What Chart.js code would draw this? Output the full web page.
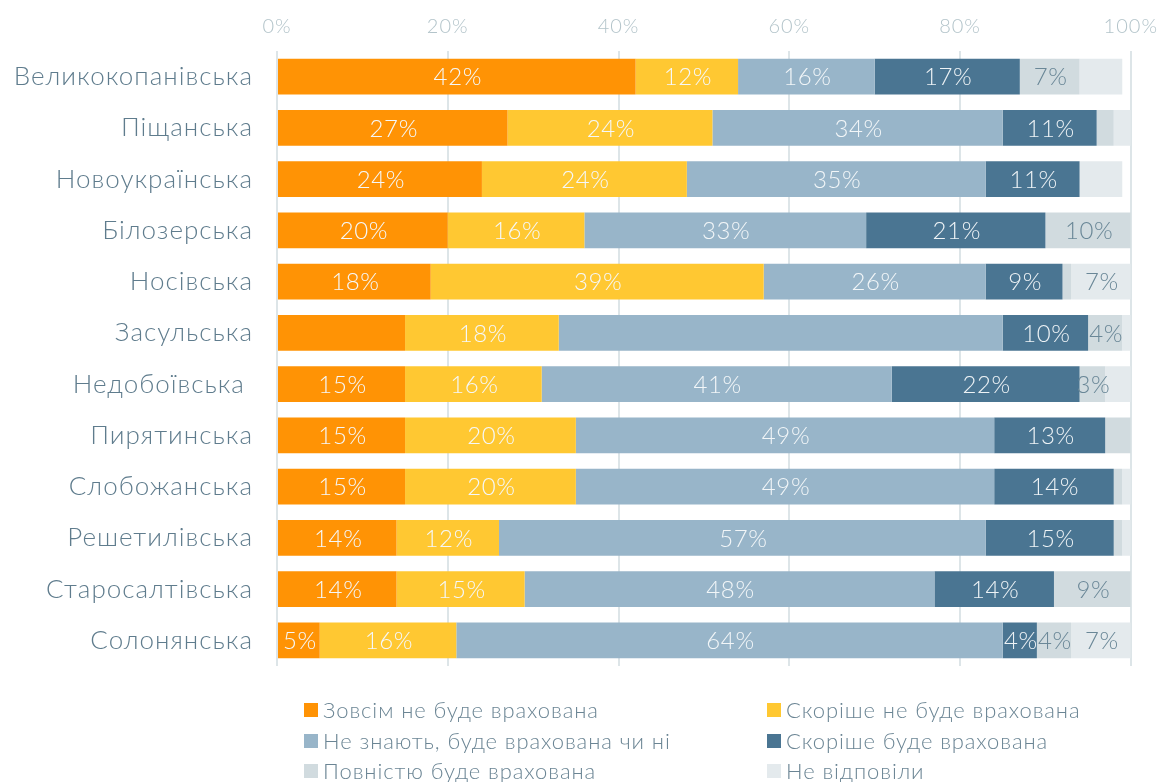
<!DOCTYPE html>
<html>
<head>
<meta charset="utf-8">
<title>Врахування думки громади</title>
<script src="https://cdn.jsdelivr.net/npm/chart.js@4/dist/chart.umd.min.js"></script>
<style>
  html, body { margin: 0; padding: 0; background: #fff; }
  #wrap { width: 1168px; height: 782px; }
</style>
</head>
<body>
<div id="wrap"><canvas id="surveyChart" width="1168" height="782"></canvas></div>
<script>
// громади (рядки діаграми)
const communities = [
  'Великокопанівська', 'Піщанська', 'Новоукраїнська', 'Білозерська', 'Носівська',
  'Засульська', 'Недобоївська ', 'Пирятинська', 'Слобожанська', 'Решетилівська',
  'Старосалтівська', 'Солонянська'
];

// частки відповідей, %
const notConsidered = [42, 27, 24, 20, 18, 15, 15, 15, 15, 14, 14, 5];
const ratherNot     = [12, 24, 24, 16, 39, 18, 16, 20, 20, 12, 15, 16];
const dontKnow      = [16, 34, 35, 33, 26, 52, 41, 49, 49, 57, 48, 64];
const ratherYes     = [17, 11, 11, 21, 9, 10, 22, 13, 14, 15, 14, 4];
const fully         = [7, 2, 0, 10, 1, 4, 3, 3, 1, 1, 9, 4];
const noAnswer      = [5, 2, 5, 0, 7, 1, 3, 0, 1, 1, 0, 7];

const seriesNames = [
  'Зовсім не буде врахована', 'Скоріше не буде врахована',
  'Не знають, буде врахована чи ні', 'Скоріше буде врахована',
  'Повністю буде врахована', 'Не відповіли'
];
const xTicks = [0, 20, 40, 60, 80, 100];

// segments left without a value label: [row, series]
const unlabeled = [[0, 5], [1, 4], [1, 5], [2, 5], [4, 4], [5, 0], [5, 2], [5, 5],
                   [6, 5], [7, 4], [8, 4], [8, 5], [9, 4], [9, 5]];

const colors = ['#ff9305', '#ffc832', '#98b5c9', '#4a7592', '#d1dbdf', '#e4eaed'];
const labelColors = ['#f5f8fa', '#f5f8fa', '#f2f6f8', '#eef3f6', '#6a8797', '#6a8797'];
const FONT = 'Lato, "Open Sans", sans-serif';

// slightly wider tracking for the axis labels
const tracking = {
  id: 'tracking',
  beforeDraw(chart) { chart.ctx.letterSpacing = '1px'; }
};

const valueLabels = {
  id: 'valueLabels',
  afterDatasetsDraw(chart) {
    const ctx = chart.ctx;
    ctx.save();
    ctx.font = '300 24px ' + FONT;
    ctx.letterSpacing = '0.6px';
    ctx.textAlign = 'center';
    ctx.textBaseline = 'middle';
    chart.data.datasets.forEach((ds, si) => {
      chart.getDatasetMeta(si).data.forEach((bar, ri) => {
        const v = ds.data[ri];
        if (!v) return;
        if (unlabeled.some(p => p[0] === ri && p[1] === si)) return;
        const c = bar.getCenterPoint();
        ctx.fillStyle = labelColors[si];
        ctx.fillText(v + '%', c.x + 1, c.y + 1);
      });
    });
    ctx.restore();
  }
};

// two-column legend under the plot
const columnLegend = {
  id: 'columnLegend',
  afterDraw(chart) {
    const ctx = chart.ctx;
    const cols = [304, 767];
    const rowY = [710, 741, 771];
    ctx.save();
    ctx.font = '300 22px ' + FONT;
    ctx.letterSpacing = '0.9px';
    ctx.textBaseline = 'middle';
    ctx.textAlign = 'left';
    chart.data.datasets.forEach((ds, i) => {
      const x = cols[i % 2];
      const y = rowY[Math.floor(i / 2)];
      ctx.fillStyle = ds.backgroundColor;
      ctx.fillRect(x, y - 7, 14, 14);
      ctx.fillStyle = '#6b8594';
      ctx.fillText(ds.label, x + 19, y + 1);
    });
    ctx.restore();
  }
};

function draw() {
  const seriesData = [notConsidered, ratherNot, dontKnow, ratherYes, fully, noAnswer];
  new Chart(document.getElementById('surveyChart'), {
    type: 'bar',
    data: {
      labels: communities,
      datasets: seriesData.map((d, i) => ({
        label: seriesNames[i],
        data: d,
        backgroundColor: colors[i],
        borderWidth: 0,
        barPercentage: 0.7,
        categoryPercentage: 1
      }))
    },
    options: {
      indexAxis: 'y',
      responsive: false,
      animation: false,
      layout: { padding: { left: 0, right: 35, top: 0, bottom: 116 } },
      plugins: {
        legend: { display: false },
        tooltip: { enabled: false }
      },
      scales: {
        x: {
          position: 'top',
          stacked: true,
          min: 0,
          max: 100,
          afterBuildTicks: s => { s.ticks = xTicks.map(v => ({ value: v })); },
          afterFit: s => { s.height = 51; },
          border: { display: false },
          grid: { color: '#dde5e8', lineWidth: 2, drawTicks: false },
          ticks: {
            padding: 12,
            color: '#b3c4ca',
            font: { family: FONT, size: 20, weight: '300' },
            callback: v => v + '%'
          }
        },
        y: {
          stacked: true,
          afterFit: s => { s.width = 277; },
          border: { display: false },
          grid: { display: false, drawTicks: false },
          ticks: {
            padding: 24,
            color: '#5f7c8d',
            font: { family: FONT, size: 26, weight: '300' }
          }
        }
      }
    },
    plugins: [tracking, valueLabels, columnLegend]
  });
}

document.fonts.load('300 24px Lato').then(draw, draw);
</script>
</body>
</html>
